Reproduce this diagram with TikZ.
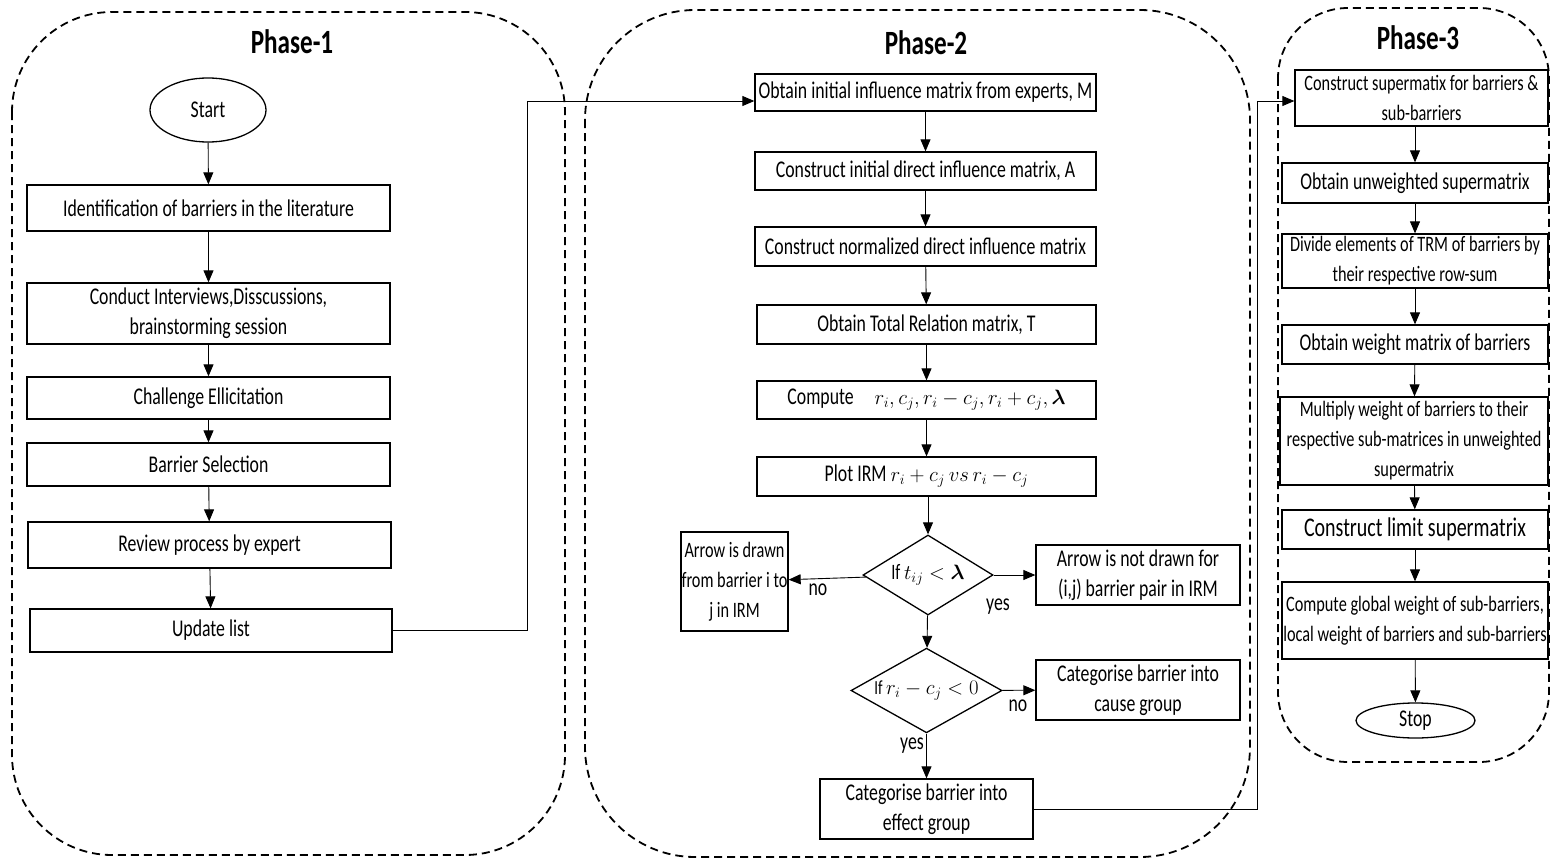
\documentclass[tikz,border=0pt]{standalone}
\usepackage{fontspec}
\setmainfont{Carlito}[FakeStretch=0.74]
\usepackage{amsmath}
\usetikzlibrary{positioning,shapes.geometric,arrows.meta}

\begin{document}
\begin{tikzpicture}
   [x=1pt,y=-1pt,
    every node/.style={inner sep=1pt,font=\fontsize{24}{30}\selectfont},
    smalltext/.style={font=\fontsize{22}{30}\selectfont},
    procbox/.style={draw,line width=1.3pt,rectangle,align=center},
    decbox/.style={draw,line width=1.3pt,diamond,aspect=1.6,inner sep=0pt,align=center,smalltext},
    termbox/.style={draw,line width=1.3pt,ellipse,inner sep=0pt},
    phase/.style={line width=1.8pt,dash pattern=on 8pt off 5pt,rounded corners=100pt},
    flow/.style={line width=0.9pt,-{Triangle[length=12pt,width=10pt]}},
    title/.style={font=\fontsize{34}{38}\selectfont\bfseries}]

\useasboundingbox (0,0) rectangle (1551,859);

%%%%%%%%%%%%%%%%%%%%%%%%%%%%%%%%%%%%%%%%%%%%%%%%%%%%%%%%%%%%%%%
% Phase 1 = identification of barriers
%%%%%%%%%%%%%%%%%%%%%%%%%%%%%%%%%%%%%%%%%%%%%%%%%%%%%%%%%%%%%%%

% Dashed frame
\draw[phase] (12,12) rectangle (565,855);
\node[title] (ph1) at (292,42) {Phase-1};

\node[termbox,minimum width=116pt,minimum height=64pt] (start) at (208,110) {Start};
\node[procbox,minimum width=363pt,minimum height=46pt] (ident) at (208.5,208) {Identification of barriers in the literature};
\node[procbox,minimum width=363pt,minimum height=61pt] (conduct) at (208.5,313.5) {Conduct Interviews,Disscussions,\\brainstorming session};
\node[procbox,minimum width=363pt,minimum height=42pt] (chall) at (208.5,398) {Challenge Ellicitation};
\node[procbox,minimum width=363pt,minimum height=43pt] (barsel) at (208.5,464.5) {Barrier Selection};
\node[procbox,minimum width=363pt,minimum height=46pt] (review) at (209.5,545) {Review process by expert};
\node[procbox,minimum width=362pt,minimum height=43pt] (update) at (211,630.5) {Update list};

\draw[flow] (start) -- (ident);
\draw[flow] (ident) -- (conduct);
\draw[flow] (conduct) -- (chall);
\draw[flow] (chall) -- (barsel);
\draw[flow] (barsel) -- (review);
\draw[flow] (review) -- (update);

%%%%%%%%%%%%%%%%%%%%%%%%%%%%%%%%%%%%%%%%%%%%%%%%%%%%%%%%%%%%%%%
% Phase 2 = DEMATEL
%%%%%%%%%%%%%%%%%%%%%%%%%%%%%%%%%%%%%%%%%%%%%%%%%%%%%%%%%%%%%%%

% Dashed frame
\draw[phase,rounded corners=110pt] (585,10) rectangle (1250,857);
\node[title] (ph2) at (926,43) {Phase-2};

\node[procbox,minimum width=341pt,minimum height=37pt] (obtain) at (925.5,92.5) {Obtain initial influence matrix from experts, M};
\node[procbox,minimum width=341pt,minimum height=38pt] (initA) at (925.5,171) {Construct initial direct influence matrix, A};
\node[procbox,minimum width=341pt,minimum height=39pt] (normA) at (925.5,246.5) {Construct normalized direct influence matrix};
\node[procbox,minimum width=339pt,minimum height=39pt] (totalT) at (926.5,324.5) {Obtain Total Relation matrix, T};
\node[procbox,minimum width=339pt,minimum height=38pt,font=\fontsize{21}{30}\selectfont] (compute) at (926.5,400) {{\fontsize{24}{30}\selectfont Compute}\quad $r_i, c_j, r_i - c_j, r_i + c_j, \boldsymbol{\lambda}$};
\node[procbox,minimum width=339pt,minimum height=39pt] (plot) at (926.5,476.5) {Plot IRM {\fontsize{22}{30}\selectfont$r_i + c_j\ vs\ r_i - c_j$}};

\node[decbox,minimum width=130pt,minimum height=80pt] (dec1) at (928,575) {If $t_{ij} < \boldsymbol{\lambda}$};
\node[procbox,smalltext,minimum width=107pt,minimum height=99pt,inner sep=0pt] (drawn) at (734.5,581.5) {Arrow is drawn\\from barrier i to\\j in IRM};
\node[procbox,minimum width=204pt,minimum height=60pt] (notdrawn) at (1138,575) {Arrow is not drawn for\\(i,j) barrier pair in IRM};

\node[decbox,minimum width=151pt,minimum height=79pt,font=\fontsize{20}{30}\selectfont] (dec2) at (926.5,690.5) {If $r_i - c_j < 0$};
\node[procbox,minimum width=204pt,minimum height=60pt] (cause) at (1138,690) {Categorise barrier into\\cause group};
\node[procbox,minimum width=213pt,minimum height=60pt] (effect) at (926.5,809) {Categorise barrier into\\effect group};

\node[] (no1) at (818,590) {no};
\node[] (yes1) at (998,607) {yes};
\node[] (no2) at (1018,706) {no};
\node[] (yes2) at (912,746) {yes};

\draw[flow] (update.east) -- ++(135,0) |- ([yshift=-8.5pt]obtain.west);
\draw[flow] (obtain) -- (initA);
\draw[flow] (initA) -- (normA);
\draw[flow] (normA) -- (totalT);
\draw[flow] (totalT) -- (compute);
\draw[flow] (compute) -- (plot);
\draw[flow] (plot.south -| dec1) -- (dec1);
\draw[flow] (dec1) -- (drawn);
\draw[flow] (dec1) -- (notdrawn);
\draw[flow] (dec1) -- (dec2);
\draw[flow] (dec2) -- (cause);
\draw[flow] (dec2.south) -- (dec2.south |- effect.north);

%%%%%%%%%%%%%%%%%%%%%%%%%%%%%%%%%%%%%%%%%%%%%%%%%%%%%%%%%%%%%%%
% Phase 3 = ANP
%%%%%%%%%%%%%%%%%%%%%%%%%%%%%%%%%%%%%%%%%%%%%%%%%%%%%%%%%%%%%%%

% Dashed frame
\draw[phase,rounded corners=70pt] (1278,8) rectangle (1549,762);
\node[title] (ph3) at (1418,38) {Phase-3};

\node[procbox,smalltext,minimum width=253pt,minimum height=56pt,inner sep=0pt] (supm) at (1421.5,98) {Construct supermatix for barriers \&\\sub-barriers};
\node[procbox,minimum width=266pt,minimum height=40pt] (unw) at (1415,183) {Obtain unweighted\ supermatrix};
\node[procbox,smalltext,minimum width=266pt,minimum height=54pt,inner sep=0pt] (divide) at (1415,261) {Divide elements of TRM of barriers by\\their respective row-sum};
\node[procbox,minimum width=266pt,minimum height=39pt] (wmat) at (1415,344.5) {Obtain weight matrix of barriers};
\node[procbox,smalltext,minimum width=268pt,minimum height=88pt,inner sep=0pt] (mult) at (1414,441) {Multiply weight of barriers to their\\respective sub-matrices in unweighted\\supermatrix};
\node[procbox,minimum width=266pt,minimum height=39pt,font=\fontsize{27}{30}\selectfont] (limit) at (1415,529.5) {Construct limit supermatrix};
\node[procbox,smalltext,minimum width=266pt,minimum height=77pt,inner sep=0pt] (glob) at (1415,620.5) {Compute global weight of sub-barriers,\\local weight of barriers and sub-barriers};
\node[termbox,minimum width=119pt,minimum height=35pt] (stop) at (1415.5,720.5) {Stop};

\draw[flow] (effect.east) -- ++(224,0) |- ([yshift=-3pt]supm.west);
\draw[flow] (supm.south -| unw) -- (unw);
\draw[flow] (unw) -- (divide);
\draw[flow] (divide) -- (wmat);
\draw[flow] (wmat) -- (mult);
\draw[flow] (mult) -- (limit);
\draw[flow] (limit) -- (glob);
\draw[flow] (glob) -- (stop);

\end{tikzpicture}
\end{document}
